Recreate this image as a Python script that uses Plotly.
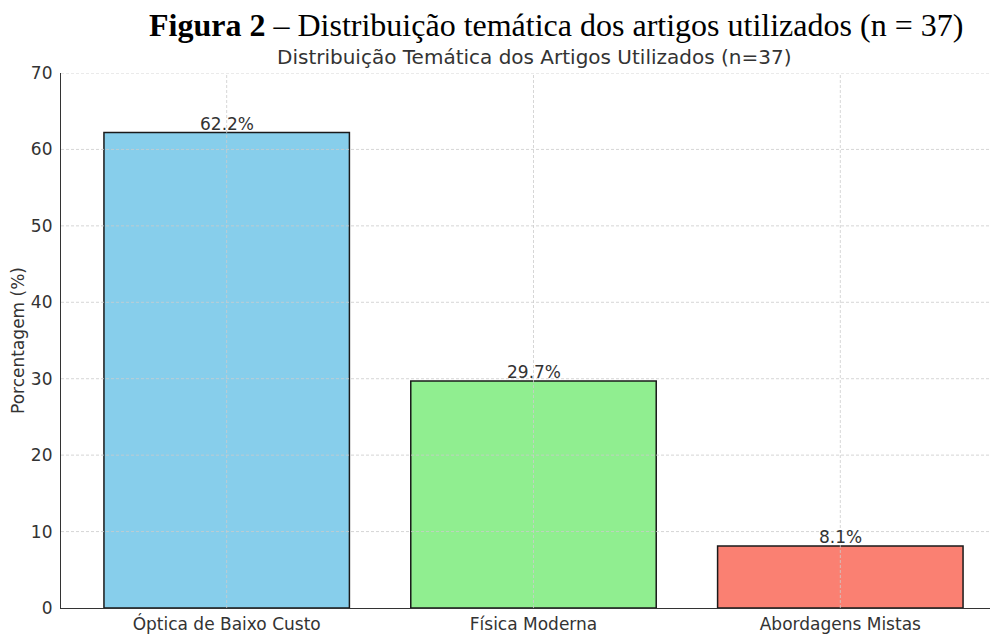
import plotly.graph_objects as go

categories = ["Óptica de Baixo Custo", "Física Moderna", "Abordagens Mistas"]
values = [62.2, 29.7, 8.1]
labels = ["62.2%", "29.7%", "8.1%"]
colors = ["#87CEEB", "#90EE90", "#FA8072"]
y_ticks = [0, 10, 20, 30, 40, 50, 60, 70]

x_idx = list(range(len(categories)))

fig = go.Figure()
fig.add_trace(go.Bar(
    x=x_idx, y=values, width=0.8,
    marker=dict(color=colors, line=dict(color="#1a1a1a", width=1.5)),
    hoverinfo="skip", showlegend=False,
))

# value labels
for i, (v, t) in enumerate(zip(values, labels)):
    fig.add_annotation(x=i, y=v, text=t, showarrow=False, yanchor="bottom",
                       yshift=-3, font=dict(family="DejaVu Sans", size=17, color="#333333"))

# dashed gridlines on top of bars
grid_style = dict(color="#cccccc", width=0.8, dash="3px,2px")
for t in y_ticks[1:]:
    fig.add_shape(type="line", xref="paper", x0=0, x1=1, yref="y", y0=t, y1=t,
                  line=grid_style, layer="above")
for i in x_idx:
    fig.add_shape(type="line", xref="x", x0=i, x1=i, yref="paper", y0=0, y1=1,
                  line=grid_style, layer="above")

fig.add_annotation(xref="paper", yref="paper", x=0.5, y=1.0, yshift=2,
                   text="Distribuição Temática dos Artigos Utilizados (n=37)",
                   showarrow=False, yanchor="bottom",
                   font=dict(family="DejaVu Sans", size=20, color="#333333"))
fig.add_annotation(xref="paper", yref="paper", x=0.524, y=1.0, yshift=28,
                   text="<b>Figura 2</b> – Distribuição temática dos artigos utilizados (n = 37)",
                   showarrow=False, yanchor="bottom",
                   font=dict(family="Liberation Serif, Times New Roman, serif", size=32, color="#000000"))

fig.update_layout(
    width=998, height=634,
    margin=dict(l=53, r=0, t=65, b=34, autoexpand=False),
    paper_bgcolor="white", plot_bgcolor="white",
    bargap=0.2,
    font=dict(family="DejaVu Sans", size=17, color="#333333"),
    xaxis=dict(
        range=[-0.54, 2.54], automargin=False,
        tickmode="array", tickvals=x_idx, ticktext=categories,
        showgrid=False, zeroline=False,
        showline=True, linecolor="#333333", linewidth=1.2,
        ticks="", ticklabelstandoff=0,
        tickfont=dict(family="DejaVu Sans", size=17, color="#333333"),
    ),
    yaxis=dict(
        range=[0, 70], tickmode="array", tickvals=y_ticks, automargin=False,
        showgrid=False, zeroline=False,
        showline=True, linecolor="#333333", linewidth=1.2,
        ticks="", ticklabelstandoff=4,
        tickfont=dict(family="DejaVu Sans", size=17, color="#333333"),
        title=dict(text="Porcentagem (%)", font=dict(family="DejaVu Sans", size=17, color="#333333"), standoff=2),
    ),
)

fig.write_html("out.html")
